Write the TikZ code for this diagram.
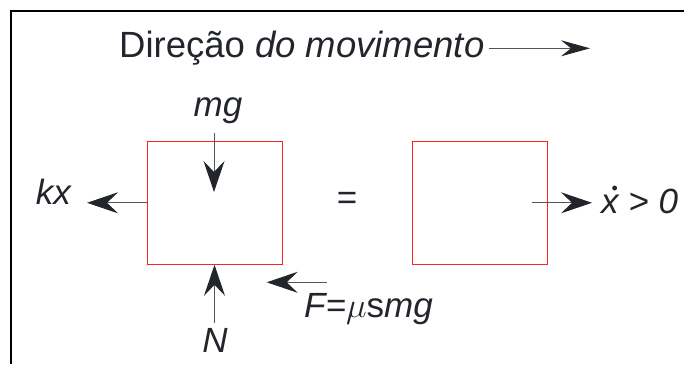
\RequirePackage{fix-cm}
\documentclass[tikz,border=0pt]{standalone}
\usepackage{fontspec}
\setmainfont{Liberation Sans}
\usetikzlibrary{arrows.meta}
\definecolor{ink}{HTML}{22262C}
\definecolor{shaft}{HTML}{555555}
\definecolor{boxred}{HTML}{FF2020}
\tikzset{
  lbl/.style={inner sep=0pt, text=ink, font=\fontsize{35}{40}\selectfont},
  force/.style={draw=shaft, line width=1pt, -{Stealth[length=31pt, width=21pt, inset=11pt, color=ink]}},
  dirarrow/.style={draw=shaft, line width=1pt, -{Stealth[length=29pt, width=16pt, inset=10pt, color=ink]}},
  body/.style={draw=boxred, line width=1pt, minimum width=135pt, minimum height=123pt, inner sep=0pt},
  frameline/.style={draw=black, line width=2pt}
}
\begin{document}
\begin{tikzpicture}[x=1pt, y=-1pt]
\useasboundingbox (0,0) rectangle (684,364);
% frame
\coordinate (fa) at (11,364);
\coordinate (fb) at (11,11);
\coordinate (fc) at (684,11);
\draw[frameline] (fa) -- (fb) -- (fc);
% title
\node[lbl, font=\fontsize{36.5}{40}\selectfont, anchor=base west] (title) at (119,57.3) {Direção \textit{do movimento}};
\coordinate (dirend) at (590,48.3);
\draw[dirarrow] (title.east |- dirend) ++(4,0) coordinate (dirstart) (dirstart) -- (dirend);
% boxes
\node[body] (b1) at (214.5,202.8) {};
\node[body] (b2) at (480.3,202.8) {};
% mg
\node[lbl, anchor=base] (mg) at (218,116.7) {\textit{mg}};
\coordinate (mgtail) at (214,133);
\coordinate (mgtip) at (214,192);
\draw[force] (mgtail) -- (mgtip);
% kx
\node[lbl, anchor=base] (kx) at (54,204) {\textit{kx}};
\coordinate (kxtip) at (87,202.8);
\draw[force] (b1.west) -- (kxtip);
% N
\node[lbl, anchor=base] (N) at (215,352) {\textit{N}};
\coordinate (Ntail) at (214.5,323);
\draw[force] (Ntail) -- (b1.south);
% friction
\coordinate (Ftail) at (327,282.3);
\coordinate (Ftip) at (266.7,282.3);
\draw[force] (Ftail) -- (Ftip);
\node[lbl, anchor=base west] (F) at (304,317.3) {\textit{F=}$\mu$s\textit{mg}};
% equals
\node[lbl] (eq) at (347,201) {=};
% velocity
\coordinate (vtail) at (532,202.8);
\coordinate (vtip) at (592,202.8);
\draw[force] (vtail) -- (vtip);
\node[lbl, anchor=base west] (xdot) at (601,213.3) {\makebox[0pt][l]{\hspace{10.5pt}\raisebox{18.7pt}{\fontsize{18}{18}\selectfont •}}\textit{x > 0}};
\end{tikzpicture}
\end{document}
